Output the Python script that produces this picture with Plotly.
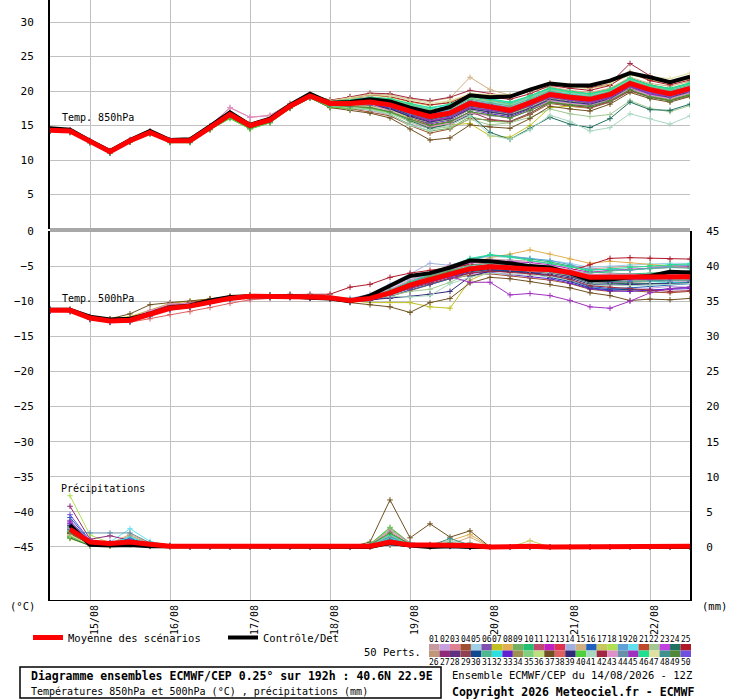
import plotly.graph_objects as go

# ECMWF ensemble diagram (Meteociel style), 40.6N 22.9E, run 14/08/2026 12Z

W, H = 740, 700
FONT = "DejaVu Sans Mono"

# forecast steps, hours after 14/08 12Z
hours = [0, 6, 12, 18, 24, 30, 36, 42, 48, 54, 60, 66, 72, 78, 84, 90, 96,
         102, 108, 114, 120, 126, 132, 138, 144, 150, 156, 162, 168, 174, 180, 186, 192]
precip_hours = hours[1:]

tick_hours = [12, 36, 60, 84, 108, 132, 156, 180]
tick_labels = ["15/08", "16/08", "17/08", "18/08", "19/08", "20/08", "21/08", "22/08"]

member_colors = [
    "#c89aa0", "#c8a0e0", "#e08090", "#a05030", "#a0d0e8", "#8050b0", "#c0c020", "#e0b050",
    "#70b060", "#20c070", "#c04870", "#c020c0", "#e03050", "#a0b0e0", "#d0b080", "#2060c0",
    "#c8c860", "#b0e050", "#60a0d8", "#60e0f0", "#c04828", "#a0c890", "#c040e0", "#207060",
    "#b01828", "#c09878", "#902878", "#603080", "#904050", "#104890", "#50b890", "#30e0e0",
    "#6020d0", "#a09050", "#80d080", "#c0e080", "#705020", "#e06060", "#302878", "#50d040",
    "#a8d8c0", "#a02840", "#e090c8", "#6890a8", "#a030c0", "#20e090", "#e0e0a0", "#409090",
    "#508838", "#7050e0"]

mean_850 = [14.3, 14.2, 12.7, 11.2, 12.8, 14.0, 12.8, 12.8, 14.7, 16.6, 15.0, 15.8, 17.8, 19.3, 18.2, 18.2, 18.4,
            18.0, 17.1, 16.3, 16.8, 18.2, 17.7, 17.2, 18.3, 19.5, 19.1, 18.8, 19.5, 21.1, 20.2, 19.6, 20.4]
ctrl_850 = [14.6, 14.4, 12.8, 11.3, 12.9, 14.2, 12.9, 13.0, 14.9, 16.9, 15.1, 16.0, 18.0, 19.6, 18.3, 18.4, 18.8,
            18.5, 17.6, 16.9, 17.7, 19.4, 19.1, 19.2, 20.2, 21.1, 20.8, 20.8, 21.5, 22.6, 22.0, 21.3, 22.1]

mean_500 = [-11.3, -11.3, -12.4, -12.8, -12.7, -11.9, -11.0, -10.7, -10.1, -9.6, -9.3, -9.3, -9.3, -9.4, -9.5, -9.9, -9.6,
            -8.8, -7.7, -6.9, -6.1, -5.4, -5.1, -5.3, -5.4, -5.5, -5.9, -6.6, -6.6, -6.6, -6.6, -6.5, -6.5]
ctrl_500 = [-11.2, -11.2, -12.2, -12.6, -12.5, -11.8, -10.9, -10.6, -9.9, -9.4, -9.3, -9.3, -9.3, -9.5, -9.6, -10.0, -9.2,
            -7.8, -6.4, -6.0, -5.2, -4.2, -4.3, -4.6, -5.0, -5.2, -6.0, -7.0, -6.9, -6.6, -6.4, -5.8, -5.9]

mean_rr = [2.5, 0.7, 0.5, 0.7, 0.4, 0.1, 0.1, 0.1, 0, 0, 0, 0, 0, 0, 0, 0.1,
           0.7, 0.3, 0.3, 0.3, 0.2, 0, 0.1, 0.1, 0, 0, 0.1, 0.1, 0, 0, 0, 0.1]
ctrl_rr = [3.1, 0.3, 0.2, 0.3, 0.1, 0.1, 0, 0, 0, 0, 0, 0, 0, 0, 0, 0,
           0.6, 0.2, 0, 0.1, 0, 0, 0, 0, 0, 0, 0, 0, 0, 0, 0, 0]

# 50 perturbed members, one row per member
perts_850 = """
14.4 14.3 12.6 11.0 12.9 14.1 12.9 12.7 14.8 16.9 15.4 16.0 18.0 19.5 18.6 18.9 19.2 18.8 17.9 17.0 17.5 18.9 18.6 18.1 19.0 20.1 19.8 19.6 20.2 21.8 20.9 20.3 21.0
14.2 14.1 12.8 11.3 12.7 13.9 12.7 12.9 14.6 16.4 14.9 15.7 17.6 19.1 17.9 17.6 17.2 16.5 15.2 14.6 15.3 16.8 16.4 16.2 17.4 18.6 18.3 17.9 18.8 20.4 19.4 18.9 19.6
14.5 14.3 12.6 11.1 12.9 14.2 12.8 12.7 14.9 17.6 16.2 16.5 18.2 19.6 18.4 18.3 18.0 17.2 15.8 14.8 15.0 16.6 16.9 16.5 17.8 19.0 18.6 18.2 19.1 20.6 19.7 19.2 20.0
14.3 14.2 12.7 11.3 12.8 14.0 12.9 12.8 14.6 16.5 15.0 15.9 17.7 19.2 18.0 17.5 17.0 16.4 15.0 13.9 14.5 16.0 15.8 15.5 16.6 18.2 17.8 17.5 18.4 20.0 19.1 18.6 19.3
14.4 14.1 12.6 11.2 12.7 14.0 12.7 12.8 14.7 16.6 15.1 15.7 17.9 19.4 18.3 18.4 18.6 18.3 17.6 16.9 17.3 18.6 18.2 17.9 19.1 20.2 19.7 19.3 20.0 21.6 20.6 20.0 20.9
14.2 14.2 12.8 11.1 12.8 14.1 12.8 12.9 14.7 16.7 15.1 15.9 17.8 19.2 18.1 18.1 18.2 17.6 16.3 15.3 15.9 17.6 17.1 16.7 17.8 19.2 18.8 18.4 19.1 20.8 19.8 19.2 20.1
14.3 14.2 12.6 11.2 12.6 13.9 12.7 12.7 14.5 16.3 14.7 15.6 17.6 19.0 17.9 18.0 18.4 17.4 16.0 15.0 15.1 15.3 13.5 13.3 15.0 17.6 17.8 17.6 18.6 20.2 19.3 18.8 19.6
14.4 14.3 12.7 11.3 12.9 14.1 12.9 12.8 14.8 16.8 15.2 16.0 18.0 19.5 18.4 18.5 18.8 18.7 17.8 17.0 17.5 18.9 18.4 17.9 18.9 20.0 19.5 19.1 19.7 21.0 19.8 19.0 19.3
14.2 14.0 12.5 11.0 12.6 13.8 12.6 12.6 14.4 16.1 14.5 15.4 17.5 19.0 17.6 17.4 17.3 16.6 15.1 14.2 14.6 16.3 15.6 15.5 16.8 18.3 17.9 17.6 18.6 20.2 19.2 18.7 19.5
14.3 14.2 12.8 11.3 12.9 14.1 12.9 12.9 14.8 16.7 15.1 15.9 18.0 19.5 18.5 18.7 19.0 18.9 18.0 17.3 17.8 19.2 18.7 18.2 19.3 20.5 20.0 19.6 20.3 21.9 20.9 20.4 21.2
14.4 14.2 12.7 11.2 12.8 14.0 12.8 12.8 14.7 16.6 15.0 15.8 17.9 19.4 18.6 18.8 18.9 18.5 17.6 16.7 17.2 18.6 18.1 17.6 18.6 19.8 19.4 19.1 19.8 21.4 20.5 19.9 20.7
14.3 14.3 12.8 11.2 12.8 14.0 12.8 12.8 14.7 16.7 15.2 15.9 17.7 19.1 18.0 17.9 17.8 17.3 16.4 15.6 16.2 17.8 17.4 17.0 18.0 19.3 18.9 18.5 19.3 20.9 20.0 19.4 20.2
14.4 14.3 12.7 11.3 12.9 14.1 12.9 12.8 14.8 16.7 15.1 15.9 17.9 19.3 18.2 18.2 18.5 18.2 17.3 16.6 17.1 18.4 18.0 17.6 18.6 19.9 19.4 19.1 19.8 21.5 20.6 20.0 20.8
14.2 14.1 12.6 11.1 12.7 13.9 12.7 12.7 14.6 16.5 14.9 15.7 17.7 19.2 18.1 18.0 18.1 17.5 16.6 15.9 16.4 17.9 17.4 17.0 18.1 19.2 18.9 18.6 19.4 21.0 20.0 19.5 20.4
14.3 14.2 12.7 11.2 12.8 14.0 12.8 12.8 14.7 16.6 15.0 15.8 17.8 19.3 18.3 18.8 19.6 19.4 18.8 18.5 19.0 22.0 20.2 19.4 20.0 20.6 20.1 19.8 20.4 22.0 21.1 20.7 21.4
14.3 14.2 12.6 11.2 12.7 14.0 12.8 12.7 14.6 16.5 14.9 15.8 17.7 19.1 17.9 17.9 18.0 17.4 16.2 15.3 15.9 17.4 17.0 16.6 17.6 18.9 18.5 18.2 19.0 20.6 19.7 19.2 20.0
14.4 14.3 12.8 11.3 12.9 14.1 12.9 12.9 14.9 16.9 15.3 16.1 18.1 19.6 18.5 18.9 19.4 19.1 18.4 17.9 18.5 19.6 19.4 19.2 20.0 21.0 20.6 20.4 20.9 22.4 21.6 21.1 21.8
14.3 14.1 12.6 11.1 12.7 13.9 12.6 12.7 14.5 16.2 14.6 15.5 17.6 19.1 17.9 17.8 17.9 17.3 16.4 15.8 16.3 17.8 17.2 16.7 17.7 19.0 18.6 18.3 19.1 20.7 19.8 19.3 20.1
14.4 14.2 12.7 11.2 12.8 14.1 12.8 12.8 14.7 16.6 15.0 15.8 17.8 19.3 18.3 18.4 18.7 18.4 17.5 16.8 17.2 18.5 18.1 17.6 18.6 19.8 19.3 19.0 19.7 21.2 20.3 19.8 20.6
14.3 14.2 12.7 11.2 12.8 14.0 12.8 12.8 14.7 16.7 15.1 15.9 17.9 19.4 18.4 18.6 18.9 18.6 17.9 17.2 17.6 18.9 18.4 18.0 18.9 20.0 19.6 19.3 19.9 21.4 20.5 20.0 20.8
14.2 14.1 12.7 11.2 12.7 14.0 12.7 12.8 14.6 16.4 14.9 15.7 17.7 19.2 18.2 18.2 18.3 17.8 16.9 16.1 16.5 17.9 17.6 17.2 18.2 19.4 19.0 18.6 19.4 20.9 20.0 19.5 20.3
14.3 14.2 12.6 11.1 12.7 13.9 12.7 12.7 14.6 16.5 14.9 15.7 17.6 19.0 17.8 17.5 17.4 16.8 15.5 14.5 14.8 15.9 15.1 15.4 16.2 17.4 16.7 16.3 16.6 18.6 17.5 17.0 17.9
14.4 14.3 12.8 11.3 12.8 14.1 12.9 12.8 14.8 16.7 15.1 15.8 17.8 19.2 18.1 18.1 18.3 17.9 17.0 16.2 16.7 18.1 17.6 17.2 18.1 19.3 18.8 18.4 19.1 20.7 19.7 19.2 20.0
14.3 14.2 12.7 11.2 12.8 14.0 12.8 12.8 14.7 16.6 15.0 15.8 17.7 19.2 18.0 17.8 17.6 17.0 15.7 14.6 15.2 16.6 14.0 13.0 14.6 16.2 15.2 14.7 16.0 18.4 17.3 17.2 18.1
14.4 14.3 12.7 11.2 12.9 14.1 12.9 12.8 14.8 16.8 15.2 16.1 18.1 19.5 18.7 19.1 19.5 19.2 18.5 18.0 18.3 19.5 19.1 18.8 19.6 20.8 20.4 20.1 20.8 22.7 21.5 20.9 21.6
14.3 14.1 12.6 11.1 12.7 13.9 12.6 12.6 14.5 16.4 14.8 15.6 17.6 19.1 17.9 17.8 17.9 17.4 16.6 15.8 16.2 17.6 17.2 16.8 17.8 19.0 18.7 18.4 19.2 20.8 19.9 19.4 20.2
14.4 14.3 12.8 11.3 12.9 14.1 12.9 12.9 14.8 16.8 15.2 16.0 18.0 19.4 18.4 18.5 18.6 18.3 17.4 16.6 17.0 18.4 18.0 17.5 18.5 19.7 19.3 18.9 19.6 21.1 20.2 19.7 20.5
14.2 14.1 12.6 11.1 12.7 13.9 12.7 12.7 14.6 16.5 14.9 15.7 17.7 19.2 18.2 18.2 18.3 17.7 16.5 15.6 16.2 17.6 17.2 16.8 17.9 19.1 18.7 18.3 19.1 20.7 19.8 19.3 20.1
14.3 14.2 12.7 11.2 12.8 14.0 12.8 12.8 14.7 16.6 15.0 15.8 17.8 19.3 18.3 18.3 18.4 17.5 16.2 15.1 15.6 17.0 15.9 15.6 16.8 18.4 17.9 17.6 18.5 20.1 19.2 18.7 19.5
14.3 14.2 12.7 11.2 12.7 14.0 12.7 12.8 14.6 16.5 14.9 15.8 17.7 19.2 18.1 18.1 18.2 17.6 16.6 15.9 16.4 17.8 17.5 17.1 18.1 19.3 18.9 18.6 19.3 20.9 20.0 19.5 20.3
14.4 14.2 12.8 11.3 12.8 14.1 12.8 12.9 14.8 16.7 15.1 15.9 17.9 19.4 18.4 18.5 18.7 18.4 17.6 16.9 17.4 18.8 18.3 17.8 18.8 20.0 19.5 19.2 19.9 21.5 20.6 20.1 20.9
14.3 14.2 12.7 11.2 12.8 14.0 12.8 12.8 14.7 16.6 15.0 15.8 17.8 19.3 18.3 18.6 18.9 18.7 18.1 17.5 18.0 19.3 18.8 18.3 19.2 20.3 19.9 19.5 20.2 21.7 20.8 20.3 21.1
14.2 14.1 12.6 11.2 12.7 13.9 12.7 12.7 14.6 16.5 14.9 15.7 17.7 19.1 18.0 18.0 18.1 17.5 16.3 15.3 15.8 17.3 16.7 16.3 17.4 18.7 18.3 18.0 18.8 20.5 19.5 19.0 19.8
14.3 14.2 12.7 11.2 12.8 14.0 12.8 12.8 14.7 16.6 15.0 15.8 17.8 19.2 18.1 18.2 18.3 17.9 17.0 16.3 16.8 18.2 17.7 17.3 18.3 19.5 19.1 18.8 19.5 21.1 20.1 19.6 20.4
14.4 14.3 12.8 11.3 12.9 14.1 12.9 12.9 14.8 16.8 15.2 16.0 18.0 19.5 18.5 18.7 19.0 18.8 18.0 17.3 17.7 19.0 18.6 18.1 19.1 20.2 19.8 19.4 20.1 21.6 20.7 20.2 21.0
14.3 14.1 12.6 11.1 12.7 13.9 12.7 12.7 14.5 16.3 14.7 15.6 17.6 19.1 17.9 17.8 17.8 17.2 16.2 15.4 15.9 17.3 16.9 16.5 17.5 18.8 18.4 18.1 18.9 20.5 19.6 19.1 19.9
14.2 14.0 12.5 11.0 12.6 13.8 12.6 12.6 14.4 16.2 14.6 15.5 17.5 19.0 17.6 17.2 16.8 16.1 14.5 12.9 13.2 15.1 14.8 14.6 16.0 17.8 17.4 17.1 18.1 19.8 18.9 18.4 19.2
14.4 14.3 12.7 11.2 12.9 14.1 12.9 12.8 14.8 16.7 15.1 15.9 17.9 19.4 18.4 18.5 18.5 18.1 17.2 16.4 16.9 18.3 17.9 17.5 18.5 19.7 19.2 18.9 19.6 21.2 20.3 19.8 20.6
14.3 14.2 12.7 11.2 12.8 14.0 12.8 12.8 14.7 16.6 15.0 15.8 17.8 19.2 18.1 18.0 18.0 17.4 16.3 15.5 16.0 17.4 16.9 16.5 17.5 18.8 18.4 18.1 18.9 20.6 19.6 19.1 19.9
14.2 14.0 12.5 11.0 12.6 13.8 12.5 12.5 14.4 16.0 14.5 15.4 17.5 19.0 17.7 17.5 17.5 16.9 15.8 15.0 15.5 17.0 16.5 16.1 17.2 18.5 18.1 17.8 18.7 20.3 19.3 18.8 19.6
14.3 14.2 12.6 11.2 12.7 14.0 12.7 12.7 14.6 16.5 14.9 15.7 17.7 19.1 17.9 17.6 17.3 16.6 15.0 14.3 15.1 16.4 13.6 13.0 14.4 16.5 15.6 14.2 14.7 16.7 16.0 15.2 16.4
14.4 14.3 12.8 11.3 12.9 14.1 12.9 12.9 14.9 16.9 15.3 16.1 18.1 19.6 18.6 19.2 19.7 19.6 19.0 18.6 19.1 20.1 19.6 19.2 20.0 21.2 20.8 20.5 21.1 24.0 22.2 21.2 22.0
14.5 14.4 12.9 11.4 13.0 14.2 13.0 13.0 15.0 17.6 16.2 16.4 18.1 19.6 18.3 18.2 18.1 17.1 15.9 14.9 15.3 16.9 16.5 16.1 17.2 18.6 18.2 17.9 18.7 20.3 19.4 18.9 19.7
14.3 14.2 12.7 11.2 12.8 14.0 12.8 12.8 14.7 16.6 15.0 15.8 17.8 19.3 18.2 18.3 18.4 18.0 17.1 16.4 16.9 18.3 17.9 17.4 18.4 19.6 19.2 18.9 19.6 21.2 20.2 19.7 20.5
14.2 14.1 12.6 11.1 12.7 13.9 12.7 12.7 14.6 16.5 14.9 15.7 17.7 19.2 18.2 18.3 18.4 17.9 16.7 15.7 16.2 17.6 17.3 16.9 17.9 19.1 18.7 18.3 19.0 20.6 19.6 19.2 20.0
14.3 14.2 12.7 11.2 12.8 14.0 12.8 12.8 14.7 16.7 15.1 15.9 17.9 19.4 18.5 18.7 19.1 18.9 18.2 17.6 18.1 19.4 18.9 18.4 19.3 20.4 19.9 19.6 20.2 21.8 20.8 20.3 21.1
14.4 14.3 12.8 11.3 12.9 14.1 12.9 12.9 14.9 16.9 15.3 16.1 18.1 19.6 18.6 19.0 19.5 19.3 18.7 18.2 18.6 19.6 19.5 19.4 20.2 21.2 20.9 20.7 21.1 22.8 22.1 21.8 22.6
14.3 14.2 12.7 11.2 12.8 14.0 12.8 12.8 14.7 16.6 15.0 15.8 17.8 19.3 18.2 18.2 18.2 17.7 16.7 16.0 16.5 17.9 17.5 17.1 18.1 19.3 18.8 18.5 19.2 20.8 19.9 19.3 20.1
14.3 14.1 12.6 11.1 12.7 13.9 12.6 12.7 14.5 16.3 14.7 15.6 17.6 19.1 17.9 17.7 17.6 17.0 15.9 15.0 15.5 17.0 16.5 16.1 17.2 18.4 18.0 17.8 18.6 20.2 19.1 18.6 19.4
14.3 14.2 12.7 11.2 12.8 14.0 12.8 12.8 14.7 16.6 15.0 15.8 17.8 19.2 18.1 18.1 18.2 17.7 16.8 16.1 16.6 18.0 17.5 17.1 18.0 19.2 18.8 18.5 19.2 20.8 19.8 19.3 20.1
"""

perts_500 = """
-11.2 -11.2 -12.3 -12.7 -12.6 -11.8 -10.9 -10.6 -10.0 -9.5 -9.2 -9.2 -9.2 -9.3 -9.4 -9.7 -9.3 -8.4 -7.2 -6.3 -5.4 -4.5 -4.0 -4.1 -4.3 -4.6 -5.0 -5.4 -5.2 -5.0 -5.1 -4.9 -4.8
-11.3 -11.4 -12.5 -12.9 -12.8 -12.0 -11.1 -10.8 -10.2 -9.7 -9.4 -9.3 -9.4 -9.5 -9.6 -10.0 -9.8 -9.1 -8.0 -7.2 -6.3 -5.5 -5.3 -5.6 -5.9 -6.6 -7.2 -8.0 -8.3 -8.4 -8.2 -7.9 -8.0
-11.2 -11.3 -12.3 -12.8 -12.6 -11.6 -10.6 -10.3 -9.9 -9.5 -9.3 -9.3 -9.2 -9.3 -9.3 -9.8 -9.5 -8.6 -7.4 -6.5 -5.7 -5.2 -5.0 -5.2 -5.3 -5.5 -6.0 -6.8 -6.9 -7.0 -6.8 -6.6 -6.5
-11.4 -11.4 -12.5 -12.9 -12.9 -12.1 -11.2 -10.8 -10.2 -9.7 -9.4 -9.4 -9.4 -9.5 -9.6 -10.1 -9.9 -9.3 -8.5 -7.6 -6.8 -6.3 -6.1 -6.4 -6.7 -7.0 -7.5 -8.3 -8.6 -8.5 -8.7 -8.8 -8.6
-11.1 -11.2 -12.2 -12.6 -12.5 -11.7 -10.8 -10.5 -9.9 -9.4 -9.1 -9.2 -9.2 -9.3 -9.4 -9.6 -9.2 -8.1 -6.9 -6.0 -5.0 -4.2 -3.6 -3.8 -4.0 -4.2 -4.6 -5.2 -5.0 -4.8 -4.7 -4.6 -4.6
-11.3 -11.3 -12.4 -12.8 -12.7 -11.9 -11.0 -10.7 -10.1 -9.6 -9.3 -9.3 -9.3 -9.4 -9.5 -9.9 -9.6 -8.8 -7.6 -6.7 -5.9 -5.3 -4.9 -5.1 -5.2 -5.3 -5.7 -6.4 -6.5 -6.6 -6.5 -6.4 -6.4
-11.2 -11.2 -12.2 -12.5 -12.2 -11.3 -10.3 -10.0 -9.6 -9.3 -9.2 -9.2 -9.3 -9.4 -9.5 -9.9 -10.2 -10.2 -10.2 -10.8 -11.0 -7.0 -5.8 -5.7 -5.7 -5.8 -6.2 -6.9 -7.0 -7.0 -6.9 -6.8 -6.7
-11.2 -11.2 -12.3 -12.7 -12.6 -11.8 -10.9 -10.6 -10.0 -9.5 -9.2 -9.2 -9.2 -9.3 -9.4 -9.8 -9.4 -8.5 -7.3 -6.4 -5.6 -4.7 -3.8 -3.3 -2.7 -3.3 -4.0 -4.6 -4.3 -4.5 -4.8 -5.0 -5.2
-11.3 -11.3 -12.4 -12.8 -12.7 -11.9 -11.0 -10.7 -10.1 -9.6 -9.3 -9.3 -9.3 -9.4 -9.5 -9.8 -9.5 -8.6 -7.5 -6.6 -5.8 -5.1 -4.9 -5.1 -5.3 -5.5 -5.9 -6.6 -6.7 -6.6 -6.6 -6.5 -6.6
-11.4 -11.4 -12.6 -13.0 -12.9 -12.1 -11.2 -10.9 -10.3 -9.7 -9.4 -9.4 -9.4 -9.5 -9.6 -10.0 -9.7 -8.9 -7.6 -6.5 -5.4 -4.2 -3.4 -3.6 -4.0 -4.4 -5.0 -5.8 -6.0 -6.1 -6.0 -5.8 -5.7
-11.3 -11.3 -12.4 -12.8 -12.7 -11.9 -11.0 -10.7 -10.1 -9.6 -9.3 -9.3 -9.3 -9.4 -9.5 -9.9 -9.6 -8.9 -7.9 -7.1 -6.4 -5.7 -5.4 -5.5 -5.6 -5.7 -6.1 -6.8 -6.8 -6.9 -6.9 -6.8 -6.7
-11.2 -11.3 -12.3 -12.7 -12.6 -11.8 -10.9 -10.6 -10.0 -9.5 -9.2 -9.2 -9.2 -9.3 -9.4 -9.8 -9.4 -8.5 -7.3 -6.4 -5.4 -4.6 -4.2 -4.3 -4.5 -4.8 -5.3 -5.9 -5.6 -5.4 -5.3 -5.2 -5.1
-11.3 -11.4 -12.5 -12.9 -12.8 -12.0 -11.1 -10.8 -10.2 -9.7 -9.4 -9.4 -9.4 -9.5 -9.6 -10.0 -9.7 -9.0 -8.0 -7.1 -6.3 -5.6 -5.3 -5.5 -5.6 -5.8 -6.2 -6.9 -6.9 -6.9 -6.8 -6.7 -6.7
-11.1 -11.2 -12.2 -12.6 -12.5 -11.7 -10.8 -10.5 -9.9 -9.4 -9.1 -9.1 -9.1 -9.2 -9.3 -9.6 -9.0 -7.6 -6.1 -4.6 -4.9 -4.2 -4.2 -4.5 -4.8 -5.1 -5.6 -6.2 -6.2 -6.3 -6.3 -6.2 -6.2
-11.3 -11.3 -12.4 -12.8 -12.7 -11.9 -11.0 -10.7 -10.1 -9.6 -9.3 -9.3 -9.3 -9.4 -9.5 -9.9 -9.6 -8.8 -7.7 -6.9 -6.1 -5.4 -5.1 -5.3 -5.5 -5.7 -6.2 -7.0 -7.0 -7.0 -6.9 -6.8 -6.8
-11.4 -11.5 -12.6 -13.0 -12.9 -12.1 -11.2 -10.9 -10.3 -9.8 -9.5 -9.5 -9.5 -9.6 -9.7 -10.1 -9.9 -9.3 -8.4 -7.6 -6.8 -6.0 -5.6 -5.7 -5.8 -6.4 -7.0 -7.9 -8.2 -8.1 -7.9 -7.6 -7.5
-11.2 -11.2 -12.3 -12.7 -12.6 -11.8 -10.9 -10.6 -10.0 -9.5 -9.2 -9.2 -9.2 -9.3 -9.4 -9.8 -9.5 -8.7 -7.5 -6.6 -5.8 -5.2 -5.0 -5.1 -5.3 -5.4 -5.8 -6.5 -6.6 -6.5 -6.5 -6.4 -6.3
-11.3 -11.3 -12.4 -12.8 -12.7 -11.9 -11.0 -10.7 -10.1 -9.6 -9.3 -9.3 -9.3 -9.4 -9.5 -9.9 -9.6 -8.9 -7.8 -7.0 -6.2 -5.5 -5.2 -5.4 -5.6 -5.8 -6.3 -7.0 -7.1 -7.0 -6.9 -6.8 -6.8
-11.2 -11.2 -12.3 -12.7 -12.6 -11.8 -10.9 -10.6 -10.0 -9.5 -9.2 -9.2 -9.2 -9.3 -9.4 -9.8 -9.4 -8.4 -7.2 -6.0 -4.9 -4.0 -3.5 -3.6 -3.9 -4.2 -4.8 -5.5 -5.5 -5.6 -5.3 -5.0 -4.9
-11.3 -11.3 -12.4 -12.8 -12.7 -11.9 -11.0 -10.7 -10.1 -9.6 -9.3 -9.3 -9.3 -9.4 -9.5 -9.9 -9.6 -8.7 -7.7 -6.9 -6.1 -5.4 -5.1 -5.2 -5.1 -5.2 -5.8 -6.6 -6.7 -6.8 -6.7 -6.7 -6.7
-11.4 -11.4 -12.5 -12.9 -12.8 -12.0 -11.1 -10.8 -10.2 -9.7 -9.4 -9.4 -9.4 -9.5 -9.6 -10.0 -9.7 -9.0 -7.9 -7.1 -6.4 -5.7 -5.4 -5.6 -5.7 -5.9 -6.4 -7.1 -7.2 -7.1 -7.0 -6.9 -6.9
-11.3 -11.3 -12.4 -12.8 -12.7 -11.9 -11.0 -10.7 -10.1 -9.6 -9.3 -9.3 -9.3 -9.4 -9.5 -9.9 -9.6 -9.2 -8.6 -8.3 -7.3 -6.0 -5.4 -5.5 -5.7 -5.9 -6.4 -7.1 -7.2 -7.3 -7.2 -7.0 -7.0
-11.2 -11.3 -12.3 -12.7 -12.6 -11.8 -10.9 -10.6 -10.0 -9.5 -9.2 -9.2 -9.2 -9.3 -9.4 -9.8 -9.5 -8.6 -7.4 -6.5 -5.7 -5.1 -4.8 -5.0 -5.2 -5.3 -5.8 -6.5 -6.6 -6.5 -6.4 -6.3 -6.3
-11.3 -11.3 -12.4 -12.8 -12.7 -11.9 -11.0 -10.7 -10.1 -9.6 -9.3 -9.3 -9.3 -9.4 -9.5 -9.9 -9.6 -8.7 -7.6 -6.8 -6.0 -5.3 -5.0 -5.2 -5.5 -5.9 -6.5 -7.4 -7.5 -7.5 -7.5 -7.4 -7.3
-11.2 -11.2 -12.2 -12.6 -12.4 -11.5 -10.5 -10.2 -9.7 -9.3 -9.1 -9.1 -9.0 -9.0 -9.0 -8.0 -7.6 -6.6 -6.0 -5.6 -5.2 -4.8 -4.6 -4.8 -5.0 -5.2 -5.7 -4.8 -3.9 -3.8 -3.9 -4.0 -4.0
-11.3 -11.3 -12.4 -12.8 -12.7 -11.9 -11.0 -10.7 -10.1 -9.6 -9.3 -9.3 -9.3 -9.4 -9.5 -9.9 -9.6 -8.8 -7.7 -6.9 -6.1 -5.4 -5.1 -5.3 -5.4 -5.5 -5.9 -6.6 -6.6 -6.6 -6.6 -6.5 -6.5
-11.4 -11.4 -12.5 -12.9 -12.8 -12.0 -11.1 -10.8 -10.2 -9.7 -9.4 -9.4 -9.4 -9.5 -9.6 -10.0 -9.7 -8.9 -7.8 -7.0 -6.2 -5.5 -5.2 -5.4 -5.5 -5.6 -6.0 -6.7 -6.7 -6.7 -6.7 -6.6 -6.6
-11.3 -11.3 -12.5 -12.9 -12.8 -12.0 -11.1 -10.8 -10.2 -9.6 -9.3 -9.3 -9.3 -9.4 -9.5 -9.9 -9.6 -8.8 -7.8 -7.0 -6.2 -5.6 -5.4 -5.6 -5.8 -6.0 -6.5 -7.2 -7.3 -7.3 -7.2 -7.1 -7.1
-11.2 -11.2 -12.3 -12.7 -12.6 -11.8 -10.9 -10.6 -10.0 -9.5 -9.2 -9.2 -9.2 -9.3 -9.4 -9.8 -9.5 -8.6 -7.5 -6.6 -5.8 -5.1 -4.8 -5.0 -5.2 -5.4 -5.8 -6.5 -6.5 -6.5 -6.4 -6.3 -6.3
-11.4 -11.4 -12.5 -12.9 -12.8 -12.0 -11.1 -10.8 -10.2 -9.7 -9.4 -9.4 -9.4 -9.5 -9.6 -10.0 -9.7 -9.0 -8.0 -7.2 -6.5 -5.8 -5.5 -5.7 -5.9 -6.6 -7.2 -8.1 -8.4 -8.3 -8.5 -8.2 -8.0
-11.2 -11.3 -12.3 -12.7 -12.6 -11.8 -10.9 -10.6 -10.0 -9.5 -9.2 -9.2 -9.2 -9.3 -9.4 -9.8 -9.4 -8.4 -7.2 -6.3 -5.6 -4.9 -4.6 -4.9 -5.1 -5.3 -5.7 -6.0 -5.7 -5.5 -5.4 -5.2 -5.3
-11.3 -11.3 -12.4 -12.8 -12.7 -11.9 -11.0 -10.7 -10.1 -9.6 -9.3 -9.3 -9.3 -9.4 -9.5 -9.9 -9.6 -8.7 -7.6 -6.8 -6.0 -5.3 -5.0 -5.2 -5.4 -5.6 -6.1 -7.0 -7.1 -7.1 -7.2 -7.3 -7.4
-11.3 -11.4 -12.5 -12.9 -12.8 -12.0 -11.1 -10.8 -10.2 -9.7 -9.4 -9.4 -9.4 -9.5 -9.6 -10.0 -9.8 -9.1 -8.1 -7.3 -6.5 -6.0 -5.9 -6.2 -6.5 -6.8 -7.4 -8.2 -8.5 -8.6 -8.4 -8.3 -8.2
-11.2 -11.2 -12.3 -12.7 -12.6 -11.8 -10.9 -10.6 -10.0 -9.5 -9.2 -9.2 -9.2 -9.3 -9.4 -9.8 -9.5 -8.5 -7.4 -6.5 -5.7 -5.1 -4.9 -5.1 -5.3 -5.5 -6.0 -6.7 -6.7 -6.7 -6.6 -6.5 -6.5
-11.3 -11.3 -12.4 -12.8 -12.7 -11.9 -11.0 -10.7 -10.1 -9.6 -9.3 -9.3 -9.3 -9.4 -9.5 -9.9 -9.6 -8.8 -7.7 -6.8 -6.0 -5.3 -5.0 -5.2 -5.4 -5.6 -6.0 -6.7 -6.8 -6.8 -6.7 -6.6 -6.6
-11.4 -11.4 -12.5 -12.9 -12.8 -12.0 -11.1 -10.8 -10.2 -9.7 -9.4 -9.4 -9.4 -9.5 -9.6 -10.0 -9.7 -9.0 -7.9 -7.1 -6.3 -5.6 -5.3 -5.5 -5.7 -5.9 -6.3 -7.0 -7.1 -7.1 -7.0 -6.9 -6.9
-11.3 -11.3 -12.3 -12.5 -11.8 -10.5 -10.2 -10.0 -9.7 -9.4 -9.3 -9.3 -9.3 -9.5 -9.7 -10.2 -10.5 -10.8 -11.6 -10.2 -9.6 -7.4 -6.6 -6.8 -7.2 -7.6 -8.1 -8.8 -9.2 -9.9 -9.7 -9.8 -9.6
-11.4 -11.5 -12.6 -13.0 -13.0 -12.5 -11.9 -11.5 -10.9 -10.3 -9.8 -9.6 -9.5 -9.5 -9.6 -10.0 -9.7 -8.9 -7.8 -7.0 -6.2 -5.5 -5.2 -5.4 -5.5 -5.7 -6.1 -6.8 -6.8 -6.8 -6.7 -6.6 -6.6
-11.3 -11.3 -12.5 -12.9 -12.8 -12.0 -11.1 -10.8 -10.2 -9.7 -9.4 -9.4 -9.4 -9.5 -9.6 -10.0 -9.8 -9.6 -9.3 -9.0 -8.6 -6.5 -5.7 -5.8 -6.0 -6.2 -6.7 -7.6 -7.7 -7.6 -7.6 -7.4 -7.4
-11.2 -11.3 -12.3 -12.7 -12.6 -11.8 -10.9 -10.6 -10.0 -9.5 -9.2 -9.2 -9.2 -9.3 -9.4 -9.8 -9.5 -8.6 -7.5 -6.6 -5.8 -5.2 -4.9 -5.1 -5.3 -5.5 -5.9 -6.6 -6.6 -6.6 -6.6 -6.5 -6.5
-11.3 -11.3 -12.4 -12.8 -12.7 -11.9 -11.0 -10.7 -10.1 -9.6 -9.3 -9.3 -9.3 -9.4 -9.5 -9.9 -9.7 -9.3 -9.4 -9.2 -7.5 -6.6 -6.0 -6.1 -6.3 -6.5 -7.0 -7.7 -7.8 -7.8 -7.7 -7.6 -7.5
-11.3 -11.4 -12.5 -12.9 -12.8 -12.0 -11.1 -10.8 -10.2 -9.7 -9.4 -9.4 -9.4 -9.5 -9.6 -10.0 -9.8 -9.1 -8.2 -7.4 -6.7 -6.0 -5.7 -5.9 -6.1 -6.3 -6.9 -7.8 -8.0 -8.2 -8.4 -8.6 -8.5
-11.1 -11.2 -12.2 -12.6 -12.4 -11.3 -10.4 -10.3 -9.9 -9.5 -9.2 -9.2 -9.2 -9.3 -9.4 -9.8 -9.4 -8.3 -7.0 -6.1 -4.8 -4.5 -4.5 -4.7 -4.9 -5.1 -5.5 -6.2 -6.1 -6.2 -6.2 -6.1 -6.1
-11.3 -11.3 -12.4 -12.8 -12.7 -11.9 -11.0 -10.7 -10.1 -9.6 -9.3 -9.3 -9.3 -9.4 -9.5 -9.9 -9.6 -8.7 -7.6 -6.8 -6.0 -5.4 -5.1 -5.3 -5.5 -5.7 -6.1 -6.9 -6.9 -6.9 -6.8 -6.7 -6.7
-11.4 -11.4 -12.5 -12.9 -12.8 -12.0 -11.1 -10.8 -10.2 -9.7 -9.4 -9.4 -9.4 -9.5 -9.6 -10.0 -9.7 -8.9 -7.9 -7.1 -6.5 -7.3 -7.3 -9.1 -8.9 -9.2 -9.9 -10.8 -11.0 -10.0 -8.8 -8.2 -8.0
-11.2 -11.2 -12.3 -12.7 -12.6 -11.8 -10.9 -10.6 -10.0 -9.5 -9.2 -9.2 -9.2 -9.3 -9.4 -9.8 -9.4 -8.5 -7.3 -6.2 -5.1 -3.9 -3.4 -3.7 -4.2 -4.6 -5.1 -5.6 -5.4 -5.1 -4.9 -4.8 -4.7
-11.3 -11.3 -12.4 -12.8 -12.7 -11.9 -11.0 -10.7 -10.1 -9.6 -9.3 -9.3 -9.3 -9.4 -9.5 -9.9 -9.6 -8.7 -7.6 -6.8 -6.0 -5.3 -5.1 -5.3 -5.5 -5.7 -6.2 -7.0 -7.1 -7.2 -7.1 -7.0 -7.0
-11.3 -11.4 -12.5 -12.9 -12.8 -12.0 -11.1 -10.8 -10.2 -9.7 -9.4 -9.4 -9.4 -9.5 -9.6 -10.0 -9.7 -8.9 -7.8 -7.0 -6.2 -5.5 -5.2 -5.4 -5.6 -5.8 -6.3 -7.1 -7.2 -7.2 -7.1 -7.0 -7.0
-11.2 -11.2 -12.3 -12.7 -12.6 -11.8 -10.9 -10.6 -10.0 -9.5 -9.2 -9.2 -9.2 -9.3 -9.4 -9.8 -9.5 -8.6 -7.5 -6.6 -5.8 -5.2 -4.9 -5.1 -5.3 -5.5 -5.9 -6.6 -6.6 -6.6 -6.5 -6.4 -6.4
-11.3 -11.3 -12.4 -12.8 -12.7 -11.9 -11.0 -10.7 -10.1 -9.6 -9.3 -9.3 -9.3 -9.4 -9.5 -9.9 -9.6 -8.8 -7.7 -6.9 -6.1 -5.4 -5.1 -5.3 -5.5 -5.7 -6.2 -6.9 -7.0 -7.0 -6.9 -6.8 -6.8
"""

# 6-hourly precipitation (mm), from +6h
perts_rr = """
1.8 0.3 0.2 0.5 0.2 0.1 0 0 0 0 0 0 0 0 0 0.2 1.0 0.3 0.2 0.4 0.1 0 0 0 0 0 0 0 0 0 0 0
2.2 0.5 0.3 0.8 0.3 0.1 0 0 0 0 0 0 0 0 0 0.1 0.6 0.2 0.1 0.2 0 0 0 0 0 0 0 0 0 0 0 0
2.6 0.4 0.2 0.6 0.2 0 0 0 0 0 0 0 0 0 0 0.3 2.2 0.4 0.3 0.5 0.3 0 0 0 0 0 0 0 0 0 0 0
1.5 0.2 0.3 0.4 0.1 0 0 0 0 0 0 0 0 0 0 0.1 0.4 0.2 0.1 0.1 0 0 0 0 0 0 0 0 0 0 0 0
2.0 0.6 0.4 0.9 0.3 0.1 0 0 0 0 0 0 0 0 0 0.2 0.8 0.3 0.2 0.3 0.2 0 0 0 0 0 0 0 0 0 0 0
3.8 0.7 0.5 1.1 0.4 0.2 0 0 0 0 0 0 0 0 0 0.1 0.5 0.2 0.3 0.2 0.1 0 0 0 0 0 0 0 0 0 0 0
1.2 0.2 0.1 0.3 0.1 0 0 0 0 0 0 0 0 0 0 0 0.3 0.1 0 0.1 0 0 0 0 0 0 0 0 0 0 0 0
2.4 0.5 0.4 0.7 0.2 0.1 0 0 0 0 0 0 0 0 0 0.2 0.7 0.5 0.4 0.9 1.8 0 0 0 0 0 0 0 0 0 0 0
1.6 0.3 0.2 0.6 0.2 0 0 0 0 0 0 0 0 0 0 0.4 2.8 0.6 0.3 0.6 0.2 0 0 0 0 0 0 0 0 0 0 0
2.1 0.4 0.3 0.8 0.3 0.1 0 0 0 0 0 0 0 0 0 0.3 1.6 0.3 0.2 0.4 0.2 0 0 0 0 0 0 0 0 0 0 0
2.8 0.6 0.3 0.7 0.2 0.1 0 0 0 0 0 0 0 0 0 0.1 0.9 0.2 0.1 0.3 0.1 0 0 0 0 0 0 0 0 0 0 0
3.3 0.8 0.6 1.0 0.3 0.1 0 0 0 0 0 0 0 0 0 0.2 1.2 0.4 0.2 0.3 0.1 0 0 0 0 0 0 0 0 0 0 0
2.5 0.5 0.3 0.6 0.2 0.1 0 0 0 0 0 0 0 0 0 0.1 1.1 0.3 0.1 0.2 0 0 0 0 0 0 0 0 0 0 0 0
1.9 0.4 0.3 0.5 0.2 0 0 0 0 0 0 0 0 0 0 0.2 0.9 0.5 0.2 0.3 0.1 0 0 0 0 0 0 0 0 0 0 0
2.3 0.6 0.5 1.8 0.6 0.3 0 0 0 0 0 0 0 0 0 0.1 0.8 0.3 0.2 0.4 1.4 0 0 0 0 0 0 0 0 0 0 0
4.2 0.8 0.6 1.2 0.4 0.1 0 0 0 0 0 0 0 0 0 0.1 0.4 0.2 0.2 0.1 0 0 0 0 0 0 0 0 0 0 0 0
1.4 0.3 0.2 0.4 0.1 0 0 0 0 0 0 0 0 0 0 0.1 0.5 0.2 0.1 0.2 0.1 0 0 0.9 0 0 0 0 0 0 0 0
7.3 1.7 0.6 1.0 0.3 0.1 0 0 0 0 0 0 0 0 0 0.2 0.6 0.3 0.2 0.2 0.1 0 0 0 0 0 0 0 0 0 0 0
2.7 0.5 0.4 0.9 0.3 0.1 0 0 0 0 0 0 0 0 0 0.2 1.3 0.4 0.3 0.5 0.2 0 0 0 0 0 0 0 0 0 0 0
2.9 0.6 0.7 2.6 0.8 0.2 0 0 0 0 0 0 0 0 0 0.1 0.7 0.3 0.2 0.3 0.1 0 0 0 0 0 0 0 0 0 0 0
1.7 0.3 0.2 0.5 0.2 0 0 0 0 0 0 0 0 0 0 0.1 0.5 0.2 0.1 0.2 0 0 0 0 0 0 0 0 0 0 0 0
2.0 0.9 0.4 0.8 0.3 0.1 0 0 0 0 0 0 0 0 0 0.3 1.9 0.4 0.3 0.5 0.3 0 0 0 0 0 0 0 0 0 0 0
2.6 0.5 0.3 0.7 0.2 0.1 0 0 0 0 0 0 0 0 0 0.2 1.5 0.3 0.2 0.3 0.2 0 0 0 0 0 0 0 0 0 0 0
1.3 0.2 0.2 0.4 0.1 0 0 0 0 0 0 0 0 0 0 0.1 0.6 0.3 0.2 0.4 0.1 0 0 0 0 0 0 0 0 0 0 0
2.4 0.4 0.3 0.6 0.2 0.1 0 0 0 0 0 0 0 0 0 0.1 0.7 0.2 0.1 0.2 0.1 0 0 0 0 0 0 0 0 0 0 0
2.2 0.5 0.4 1.6 0.5 0.2 0 0 0 0 0 0 0 0 0 0.1 0.5 0.2 0.3 0.3 0.6 0 0 0 0 0 0 0 0 0 0 0
5.8 1.1 1.6 0.9 0.3 0.1 0 0 0 0 0 0 0 0 0 0.1 0.6 0.2 0.1 0.2 0 0 0 0 0 0 0 0 0 0 0 0
3.0 0.6 0.4 0.8 0.3 0.1 0 0 0 0 0 0 0 0 0 0.1 0.8 0.3 0.2 0.3 0.1 0 0 0 0 0 0 0 0 0 0 0
1.9 0.4 0.3 0.6 0.2 0 0 0 0 0 0 0 0 0 0 0.2 0.9 0.3 0.2 0.3 0.1 0 0 0 0 0 0 0 0 0 0 0
2.5 0.5 0.4 0.7 0.2 0.1 0 0 0 0 0 0 0 0 0 0.2 0.5 0.2 0.1 0.2 0 0 0 0 0 0 0 0 0 0 0 0
2.1 0.4 0.3 0.9 0.3 0.1 0 0 0 0 0 0 0 0 0 0.2 1.4 0.4 0.3 0.6 0.2 0 0 0 0 0 0 0 0 0 0 0
2.8 0.7 0.5 1.4 0.4 0.1 0 0 0 0 0 0 0 0 0 0.3 1.2 0.5 0.3 0.4 0.2 0 0 0 0 0 0 0 0 0 0 0
3.4 0.6 0.5 0.8 0.3 0.1 0 0 0 0 0 0 0 0 0 0.1 0.4 0.2 0.1 0.1 0 0 0 0 0 0 0 0 0 0 0 0
1.6 0.3 0.2 0.5 0.2 0 0 0 0 0 0 0 0 0 0 0.2 0.8 0.3 0.2 0.4 0.2 0 0 0 0 0 0 0 0 0 0 0
2.3 0.5 0.4 0.8 0.2 0.1 0 0 0 0 0 0 0 0 0 0.4 2.5 0.5 0.3 0.5 0.3 0 0 0 0 0 0 0 0 0 0 0
1.8 0.4 0.3 0.6 0.2 0 0 0 0 0 0 0 0 0 0 0.2 1.0 0.3 0.2 0.3 0.1 0 0 0 0 0 0 0 0 0 0 0
2.0 0.4 0.3 0.7 0.2 0.1 0 0 0 0 0 0 0 0 0 0.7 6.7 1.3 3.3 1.4 2.3 0 0 0 0 0 0 0 0 0 0 0
2.7 0.6 0.4 0.8 0.3 0.1 0 0 0 0 0 0 0 0 0 0.1 0.6 0.2 0.1 0.3 0.1 0 0 0 0 0 0 0 0 0 0 0
3.1 0.5 0.3 0.7 0.2 0.1 0 0 0 0 0 0 0 0 0 0.1 0.3 0.1 0.1 0.1 0 0 0 0 0 0 0 0 0 0 0 0
1.5 0.3 0.2 0.5 0.2 0 0 0 0 0 0 0 0 0 0 0.4 2.7 0.5 0.3 0.5 0.2 0 0 0 0 0 0 0 0 0 0 0
2.4 0.5 0.4 0.7 0.2 0.1 0 0 0 0 0 0 0 0 0 0.2 1.7 0.4 0.3 0.9 0.3 0 0 0 0 0 0 0 0 0 0 0
1.9 0.4 0.3 0.6 0.2 0.1 0 0 0 0 0 0 0 0 0 0.1 0.5 0.2 0.1 0.2 0.1 0 0 0 0 0 0 0 0 0 0 0
2.6 0.5 0.4 0.9 0.3 0.1 0 0 0 0 0 0 0 0 0 0.3 2.4 0.6 0.3 0.4 0.2 0 0 0 0 0 0 0 0 0 0 0
2.3 2.0 2.0 2.0 0.6 0.2 0 0 0 0 0 0 0 0 0 0.2 1.1 0.3 0.2 0.3 0.1 0 0 0 0 0 0 0 0 0 0 0
3.6 0.7 0.5 0.9 0.3 0.1 0 0 0 0 0 0 0 0 0 0.2 0.9 0.3 0.2 0.2 0.1 0 0 0 0 0 0 0 0 0 0 0
2.2 0.5 0.3 0.8 0.3 0.1 0 0 0 0 0 0 0 0 0 0.3 1.8 0.4 0.3 0.5 0.2 0 0 0 0 0 0 0 0 0 0 0
1.7 0.3 0.2 0.5 0.2 0 0 0 0 0 0 0 0 0 0 0.1 0.4 0.2 0.1 0.2 0.1 0 0 0 0 0 0 0 0 0 0 0
2.5 0.5 0.4 0.8 0.3 0.1 0 0 0 0 0 0 0 0 0 0.2 1.0 0.4 0.2 1.2 0.3 0 0 0 0 0 0 0 0 0 0 0
2.0 0.4 0.3 0.7 0.2 0.1 0 0 0 0 0 0 0 0 0 0.3 2.0 0.4 0.2 0.4 0.2 0 0 0 0 0 0 0 0 0 0 0
4.6 0.9 0.6 1.0 0.3 0.1 0 0 0 0 0 0 0 0 0 0.1 0.6 0.3 0.2 0.2 0.1 0 0 0 0 0 0 0 0 0 0 0
"""


def rows(block):
    return [[float(v) for v in line.split()] for line in block.strip().splitlines()]


t850 = rows(perts_850)
t500 = rows(perts_500)
rr = rows(perts_rr)
assert len(t850) == len(t500) == len(rr) == 50
assert all(len(r) == 33 for r in t850 + t500) and all(len(r) == 32 for r in rr)


def px(x):
    return x / W


def py(y):
    return 1 - y / H


fig = go.Figure()

# members (thin spaghetti)
for k in range(50):
    c = member_colors[k]
    style = dict(mode="lines+markers", line=dict(color=c, width=1),
                 marker=dict(symbol="cross-thin", size=4, line=dict(color=c, width=1)),
                 showlegend=False, hoverinfo="skip")
    fig.add_trace(go.Scatter(x=hours, y=t850[k], xaxis="x2", yaxis="y", **style))
    fig.add_trace(go.Scatter(x=hours, y=t500[k], xaxis="x", yaxis="y3", **style))
    fig.add_trace(go.Scatter(x=precip_hours, y=rr[k], xaxis="x", yaxis="y4", **style))

# control run
ctrl = dict(mode="lines", line=dict(color="black", width=4), name="Contrôle/Det", legendrank=2)
fig.add_trace(go.Scatter(x=hours, y=ctrl_850, xaxis="x2", yaxis="y", showlegend=True, **ctrl))
fig.add_trace(go.Scatter(x=hours, y=ctrl_500, xaxis="x", yaxis="y3", showlegend=False, **ctrl))
fig.add_trace(go.Scatter(x=precip_hours, y=ctrl_rr, xaxis="x", yaxis="y4", showlegend=False, **ctrl))

# ensemble mean
mean = dict(mode="lines", line=dict(color="#ff0000", width=5), name="Moyenne des scénarios", legendrank=1)
fig.add_trace(go.Scatter(x=hours, y=mean_850, xaxis="x2", yaxis="y", showlegend=True, **mean))
fig.add_trace(go.Scatter(x=hours, y=mean_500, xaxis="x", yaxis="y3", showlegend=False, **mean))
fig.add_trace(go.Scatter(x=precip_hours, y=mean_rr, xaxis="x", yaxis="y4", showlegend=False, **mean))

grid = "#c0c0c0"
tickfont = dict(family=FONT, size=11, color="black")
hidden_ticks = dict(ticks="outside", ticklen=12, tickcolor="rgba(0,0,0,0)")
xdom = [px(50), px(690)]
top_dom = [py(229), 1]
bot_dom = [py(600), py(231)]
top_rng = [0, 33.2]
bot_rng = [-52.55, 0]

fig.update_layout(
    width=W, height=H,
    margin=dict(l=0, r=0, t=0, b=0, autoexpand=False),
    paper_bgcolor="white", plot_bgcolor="white",
    font=dict(family=FONT, size=10, color="black"),
    xaxis=dict(domain=xdom, range=[0, 192], anchor="y3", tickvals=tick_hours, ticktext=tick_labels,
               tickangle=-90, tickfont=dict(family=FONT, size=10), ticklabelshift=5,
               showgrid=True, gridcolor=grid, gridwidth=1, zeroline=False,
               showline=True, linecolor="black", linewidth=1, ticks=""),
    xaxis2=dict(domain=xdom, range=[0, 192], anchor="y", matches="x", tickvals=tick_hours,
                showticklabels=False, showgrid=True, gridcolor=grid, gridwidth=1,
                zeroline=False, showline=False, ticks=""),
    yaxis=dict(domain=top_dom, range=top_rng, anchor="x2", tickvals=[5, 10, 15, 20, 25, 30],
               tickfont=tickfont, showgrid=True, gridcolor=grid, gridwidth=1,
               zeroline=True, zerolinecolor="#a8a8a8", zerolinewidth=2,
               showline=True, linecolor="black", linewidth=2, **hidden_ticks),
    yaxis2=dict(overlaying="y", side="right", anchor="x2", range=[top_rng[0] + 45, top_rng[1] + 45],
                tickvals=[50, 55, 60, 65, 70, 75], tickfont=tickfont, showgrid=False, zeroline=False,
                showline=True, linecolor="black", linewidth=2, **hidden_ticks),
    yaxis3=dict(domain=bot_dom, range=bot_rng, anchor="x",
                tickvals=[-45, -40, -35, -30, -25, -20, -15, -10, -5, 0],
                tickfont=tickfont, showgrid=True, gridcolor=grid, gridwidth=1,
                zeroline=True, zerolinecolor="#a8a8a8", zerolinewidth=2,
                showline=True, linecolor="black", linewidth=2, **hidden_ticks),
    yaxis4=dict(overlaying="y3", side="right", anchor="x", range=[bot_rng[0] + 45, bot_rng[1] + 45],
                tickvals=[0, 5, 10, 15, 20, 25, 30, 35, 40, 45], tickfont=tickfont,
                showgrid=False, zeroline=False, showline=True, linecolor="black", linewidth=2,
                **hidden_ticks),
    # heavier grid every 10 degrees
    yaxis5=dict(overlaying="y", anchor="x2", range=top_rng, tickvals=[10, 20, 30],
                showticklabels=False, ticks="", showgrid=True, gridcolor=grid, gridwidth=2,
                zeroline=False, showline=False),
    yaxis6=dict(overlaying="y3", anchor="x", range=bot_rng, tickvals=[-40, -30, -20, -10],
                showticklabels=False, ticks="", showgrid=True, gridcolor=grid, gridwidth=2,
                zeroline=False, showline=False),
    legend=dict(orientation="h", x=px(28), y=py(623), xanchor="left", yanchor="top",
                entrywidth=150, entrywidthmode="pixels", itemwidth=30,
                font=dict(family=FONT, size=10.5), bgcolor="rgba(0,0,0,0)", borderwidth=0),
)


def note(text, x, y, size=10, anchor="left"):
    fig.add_annotation(text=text, x=px(x), y=py(y), xref="paper", yref="paper",
                       xanchor=anchor, yanchor="middle", showarrow=False,
                       font=dict(family=FONT, size=size, color="black"))


note("Temp. 850hPa", 60, 117)
note("Temp. 500hPa", 60, 298)
note("Précipitations", 59, 488)
note("(°C)", 22, 606, 10.5, "center")
note("(mm)", 714, 606, 10.5, "center")
note("50 Perts.", 423, 652, 10.5, "right")

# member colour key
cell = 10.48
for k in range(25):
    x0 = 429 + cell * k
    for r, idx in enumerate([k, k + 25]):
        fig.add_shape(type="rect", xref="paper", yref="paper",
                      x0=px(x0), x1=px(x0 + cell), y0=py(644 + 6.5 * (r + 1)), y1=py(644 + 6.5 * r),
                      fillcolor=member_colors[idx], line=dict(width=0))
    note(f"{k + 1:02d}", x0 + cell / 2, 639, 8, "center")
    note(f"{k + 26:02d}", x0 + cell / 2, 662, 8, "center")

# title box
fig.add_shape(type="rect", xref="paper", yref="paper", x0=px(20), x1=px(441), y0=py(698), y1=py(667),
              line=dict(color="black", width=1.5), fillcolor="rgba(0,0,0,0)")
note("<b>Diagramme ensembles ECMWF/CEP 0.25° sur 192h : 40.6N 22.9E</b>", 29, 676, 11.5)
note("Températures 850hPa et 500hPa (°C) , précipitations (mm)", 29, 691, 10)
note("Ensemble ECMWF/CEP du 14/08/2026 - 12Z", 450, 675, 10.5)
note("<b>Copyright 2026 Meteociel.fr - ECMWF</b>", 450, 692, 11.5)

# the page body keeps an 8px margin by default; drop it so the figure fills the window
fig.write_html("out.html", config={"displayModeBar": False},
               post_script="document.body.style.margin='0px';")
